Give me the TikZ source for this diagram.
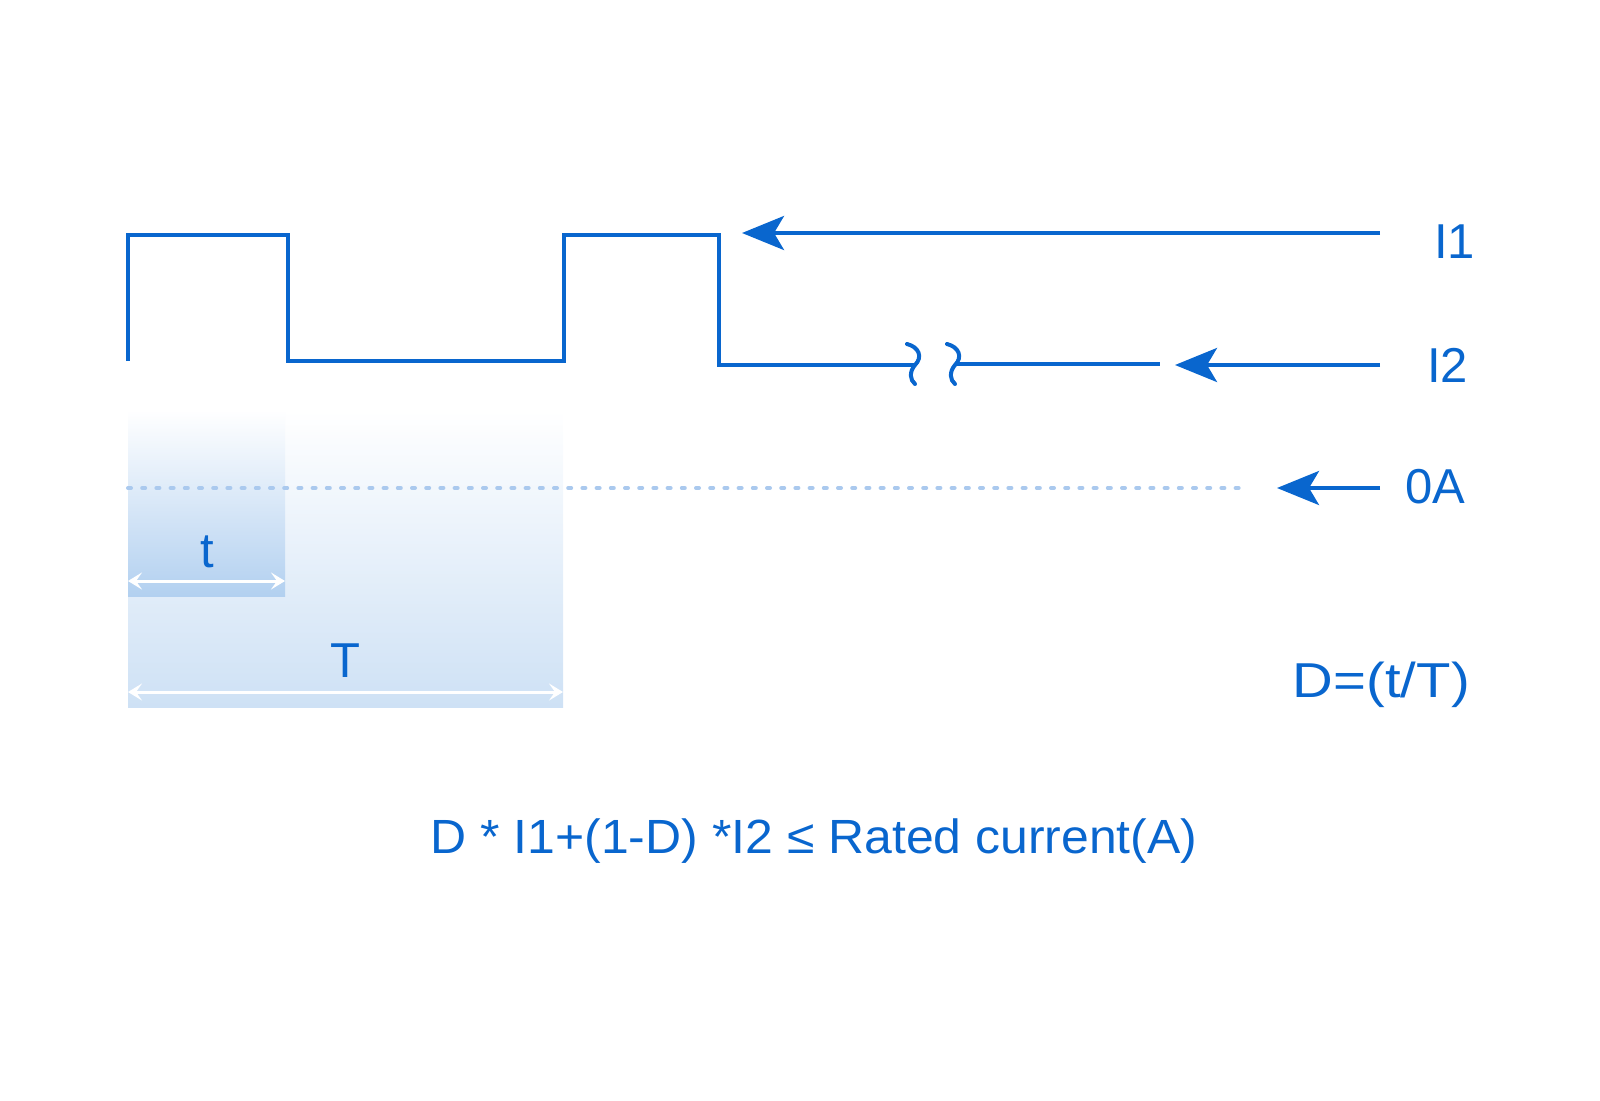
\documentclass[tikz,border=0pt]{standalone}
\usepackage{fontspec}
\setmainfont{Liberation Sans}
\usetikzlibrary{arrows.meta}
\definecolor{mainblue}{RGB}{9,102,206}
\definecolor{dotblue}{RGB}{170,201,238}
\definecolor{shadeA}{RGB}{206,225,245}
\definecolor{shadeB}{RGB}{178,208,240}
\tikzset{
  wave/.style={draw=mainblue, line width=4pt},
  pointer/.style={draw=mainblue, line width=4pt, -{Stealth[length=42pt,width=34pt,inset=10pt]}},
  span/.style={draw=white, line width=3pt, {Stealth[length=14pt,width=17pt,inset=6pt]}-{Stealth[length=14pt,width=17pt,inset=6pt]}},
  lbl/.style={text=mainblue, inner sep=0pt, font=\fontsize{49}{55}\selectfont},
  zeroline/.style={draw=dotblue, line width=4pt, line cap=round, dash pattern=on 3pt off 11.2pt}
}
\begin{document}
\begin{tikzpicture}[x=1pt,y=-1pt]
\useasboundingbox (0,0) rectangle (1600,1100);
% shaded regions
\shade[top color=white, bottom color=shadeA] (128,410) rectangle (563,707);
\shade[top color=white, bottom color=shadeB] (128,410) rectangle (285,596);
% zero line
\coordinate (z0) at (128,488);
\coordinate (z1) at (1240,488);
\draw[zeroline] (z0) -- (z1);
% square wave
\coordinate (w0) at (128,361);
\coordinate (w1) at (128,235);
\coordinate (w2) at (288,235);
\coordinate (w3) at (288,361);
\coordinate (w4) at (564,361);
\coordinate (w5) at (564,235);
\coordinate (w6) at (719,235);
\coordinate (w7) at (719,365);
\coordinate (w8) at (914,365);
\draw[wave, line join=miter] (w0) -- (w1) -- (w2) -- (w3) -- (w4) -- (w5) -- (w6) -- (w7) -- (w8);
% break marks
\draw[wave, line cap=round] (907,344) .. controls (919,347) and (923,357) .. (915,365) .. controls (909,372) and (910,380) .. (915,384);
\draw[wave, line cap=round] (947,344) .. controls (959,347) and (963,357) .. (955,365) .. controls (949,372) and (950,380) .. (955,384);
\coordinate (b0) at (955,364);
\coordinate (b1) at (1160,364);
\draw[wave] (b0) -- (b1);
% labels
\node[lbl, anchor=base west] (I1) at (1434,258) {I1};
\node[lbl, anchor=base west] (I2) at (1427,382) {I2};
\node[lbl, anchor=base west] (A0) at (1405,503) {0A};
% pointers
\coordinate (p1s) at (1380,233);
\coordinate (p1e) at (742,233);
\coordinate (p2s) at (1380,365);
\coordinate (p2e) at (1175,365);
\coordinate (p3s) at (1380,488);
\coordinate (p3e) at (1277,488);
\draw[pointer] (p1s) -- (p1e);
\draw[pointer] (p2s) -- (p2e);
\draw[pointer] (p3s) -- (p3e);
% spans
\coordinate (ta) at (128,581);
\coordinate (tb) at (285,581);
\coordinate (Ta) at (128,692);
\coordinate (Tb) at (563,692);
\draw[span] (ta) -- (tb);
\draw[span] (Ta) -- (Tb);
\node[lbl, anchor=base] (tlab) at (207,567) {t};
\node[lbl, anchor=base] (Tlab) at (345,677) {T};
% duty formula
\node[lbl, anchor=base east] (duty) at (1470,697) {\scalebox{1.15}[1]{D=(t/T)}};
\node[lbl, anchor=base, font=\fontsize{48}{54}\selectfont] (rule) at (814,853) {\scalebox{1.04}[1]{D * I1+(1-D) *I2 ≤ Rated current(A)}};
\end{tikzpicture}
\end{document}
